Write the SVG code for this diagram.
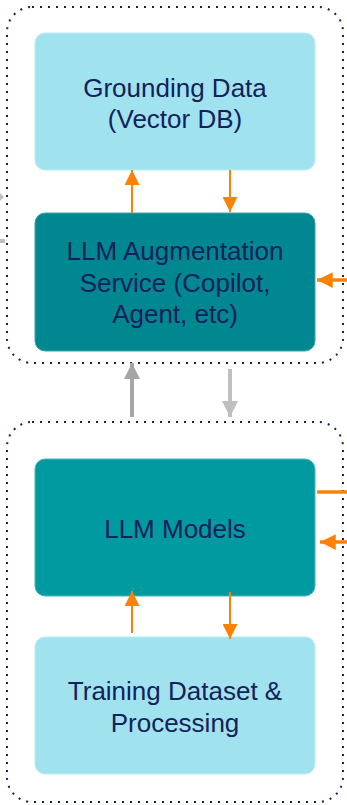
<svg xmlns="http://www.w3.org/2000/svg" width="347" height="805" viewBox="0 0 347 805">
  <defs>
    <style>
      .zone { fill: none; stroke: #16205a; stroke-width: 2; stroke-dasharray: 2 6; }
      .light { fill: #a0e3ee; stroke: #b8ecf4; stroke-width: 1; }
      .teal-a { fill: #00878f; stroke: #3aa7ae; stroke-width: 1; }
      .teal-b { fill: #009aa0; stroke: #4ab5ba; stroke-width: 1; }
      .label { font-family: "Liberation Sans", Arial, sans-serif; font-size: 26px; fill: #14215a; text-anchor: middle; }
      .orange { stroke: #fd8204; stroke-width: 2; fill: none; }
      .orange-thick { stroke: #fd8204; stroke-width: 3.5; fill: none; }
      .gray-dark { stroke: #a6a6a6; stroke-width: 4; fill: none; }
      .gray-light { stroke: #bfbfbf; stroke-width: 4; fill: none; }
    </style>
    <marker id="headOrange" viewBox="0 0 10 10" refX="10" refY="5" markerWidth="7.5" markerHeight="7.5" markerUnits="strokeWidth" orient="auto">
      <path d="M0,0 L10,5 L0,10 z" fill="#fd8204"/>
    </marker>
    <marker id="headOrangeThick" viewBox="0 0 10 10" refX="10" refY="5" markerWidth="4.5" markerHeight="4.5" markerUnits="strokeWidth" orient="auto">
      <path d="M0,0 L10,5 L0,10 z" fill="#fd8204"/>
    </marker>
    <marker id="headGrayDark" viewBox="0 0 10 10" refX="10" refY="5" markerWidth="4" markerHeight="4" markerUnits="strokeWidth" orient="auto">
      <path d="M0,0 L10,5 L0,10 z" fill="#a6a6a6"/>
    </marker>
    <marker id="headGrayLight" viewBox="0 0 10 10" refX="10" refY="5" markerWidth="4" markerHeight="4" markerUnits="strokeWidth" orient="auto">
      <path d="M0,0 L10,5 L0,10 z" fill="#bfbfbf"/>
    </marker>
  </defs>

  <rect width="347" height="805" fill="#ffffff"/>

  <!-- dotted zones -->
  <g id="zone-augmentation">
    <rect class="zone" x="7" y="7" width="336" height="356" rx="25" ry="25"/>
  </g>
  <g id="zone-models">
    <rect class="zone" x="7" y="422" width="336" height="380" rx="25" ry="25"/>
  </g>

  <!-- nodes -->
  <g id="grounding-data">
    <rect class="light" x="35" y="33" width="280" height="137" rx="10" ry="10"/>
    <text class="label" x="175" y="97">Grounding Data</text>
    <text class="label" x="175" y="128">(Vector DB)</text>
  </g>
  <g id="augmentation-service">
    <rect class="teal-a" x="35" y="213" width="280" height="138" rx="10" ry="10"/>
    <text class="label" x="175" y="260">LLM Augmentation</text>
    <text class="label" x="175" y="292">Service (Copilot,</text>
    <text class="label" x="175" y="323">Agent, etc)</text>
  </g>
  <g id="llm-models">
    <rect class="teal-b" x="35" y="459" width="280" height="137" rx="10" ry="10"/>
    <text class="label" x="175" y="538">LLM Models</text>
  </g>
  <g id="training-data">
    <rect class="light" x="35" y="637" width="280" height="137" rx="10" ry="10"/>
    <text class="label" x="175" y="700">Training Dataset &amp;</text>
    <text class="label" x="175" y="732">Processing</text>
  </g>

  <!-- connectors -->
  <g id="connectors">
    <line class="orange" x1="132" y1="213" x2="132" y2="170" marker-end="url(#headOrange)"/>
    <line class="orange" x1="230" y1="170" x2="230" y2="212" marker-end="url(#headOrange)"/>
    <line class="orange-thick" x1="347" y1="280" x2="317" y2="280" marker-end="url(#headOrangeThick)"/>

    <line class="gray-dark" x1="132" y1="417" x2="132" y2="363" marker-end="url(#headGrayDark)"/>
    <line class="gray-light" x1="230" y1="369" x2="230" y2="417" marker-end="url(#headGrayLight)"/>

    <line class="orange-thick" x1="317" y1="492" x2="347" y2="492"/>
    <line class="orange-thick" x1="347" y1="542" x2="320" y2="542" marker-end="url(#headOrangeThick)"/>

    <line class="orange" x1="132" y1="633" x2="132" y2="591" marker-end="url(#headOrange)"/>
    <line class="orange" x1="230" y1="592" x2="230" y2="639" marker-end="url(#headOrange)"/>

    <!-- stubs entering from the left edge -->
    <path d="M0,193 L4,197 L0,201 z" fill="#bfbfbf"/>
    <rect x="0" y="239" width="5" height="4" fill="#bfbfbf"/>
  </g>
</svg>
